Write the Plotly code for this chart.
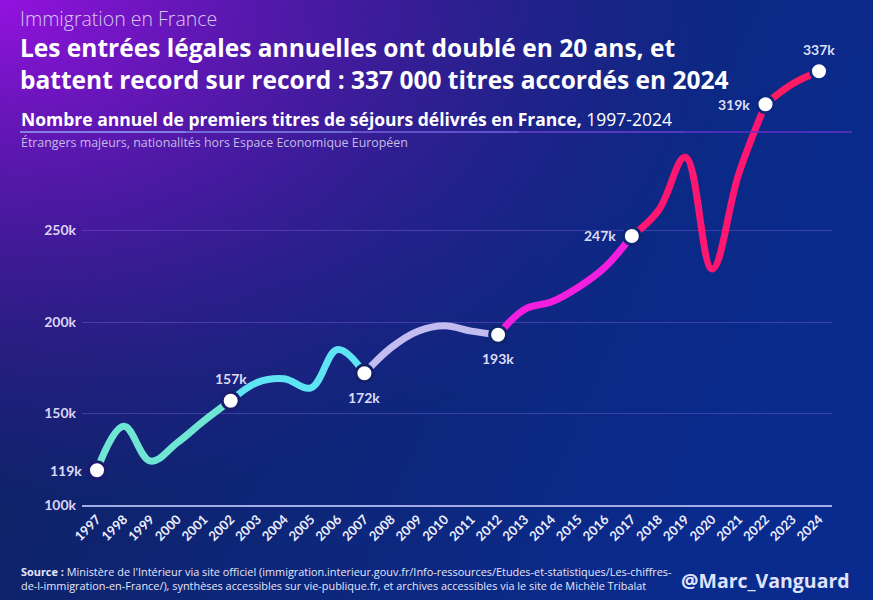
import base64
import plotly.graph_objects as go

# ---------------- data ----------------
years = list(range(1997, 2025))
values_k = [119, 143, 124, 134, 146, 157, 167, 169, 164, 185, 172, 186, 195, 198,
            195, 193, 207, 211, 219, 230, 247, 261, 290, 229, 281, 319, 330, 337]
labelled_years = [1997, 2002, 2007, 2012, 2017, 2022, 2024]
labelled_text = ["119k", "157k", "172k", "193k", "247k", "319k", "337k"]
y_ticks = [100, 150, 200, 250]
y_tick_text = ["100k", "150k", "200k", "250k"]

# colour groups (between labelled points)
group_bounds = [(1997, 2002), (2002, 2007), (2007, 2012), (2012, 2017), (2017, 2022), (2022, 2024)]
group_colors = ["#6fe6d4", "#5ee4f2", "#c2bcf0", "#f41edf", "#ff1670", "#ff1a62"]

W, H = 873, 600

def px(x):
    return x / W

def py(y):
    return 1 - y / H

# ---------------- background (svg gradient) ----------------
svg = f'''<svg xmlns="http://www.w3.org/2000/svg" width="{W}" height="{H}" viewBox="0 0 {W} {H}" preserveAspectRatio="none">
<defs>
<linearGradient id="b" x1="0" y1="0" x2="1" y2="0.3">
<stop offset="0" stop-color="#10205f"/><stop offset="1" stop-color="#0a2b8e"/></linearGradient>
<radialGradient id="p" cx="0" cy="0" r="0.85" gradientUnits="objectBoundingBox">
<stop offset="0" stop-color="#9412e0" stop-opacity="1"/>
<stop offset="0.45" stop-color="#6a14c0" stop-opacity="0.6"/>
<stop offset="1" stop-color="#3a1aa0" stop-opacity="0"/>
</radialGradient></defs>
<rect width="{W}" height="{H}" fill="url(#b)"/>
<rect width="{W}" height="{H}" fill="url(#p)"/>
</svg>'''
svg_uri = "data:image/svg+xml;base64," + base64.b64encode(svg.encode()).decode()

fig = go.Figure()

# line segments
for (a, b), col in zip(group_bounds, group_colors):
    xs = [y for y in years if a <= y <= b]
    ys = [values_k[years.index(y)] for y in xs]
    fig.add_trace(go.Scatter(x=xs, y=ys, mode="lines",
                             line=dict(color=col, width=7, shape="spline", smoothing=1.1),
                             hoverinfo="skip", showlegend=False))

# markers
mk_y = [values_k[years.index(y)] for y in labelled_years]
ring = ["#1c1a6e", "#1a1c70", "#13206a", "#0e2468", "#0e2672", "#0b2880", "#0a2a88"]
fig.add_trace(go.Scatter(x=labelled_years, y=mk_y, mode="markers",
                         marker=dict(color="white", size=17, line=dict(color=ring, width=3)),
                         hoverinfo="skip", showlegend=False))

# value labels
lab_font = dict(family="Lato", size=14, color="#dcdcf6", weight="bold")
offsets = {1997: (-31, 0), 2002: (0, 22), 2007: (0, -24), 2012: (0, -24),
           2017: (-32, 0), 2022: (-32, 0), 2024: (0, 22)}
for yr, txt in zip(labelled_years, labelled_text):
    dx, dy = offsets[yr]
    fig.add_annotation(x=yr, y=values_k[years.index(yr)], xref="x", yref="y",
                       text=txt, showarrow=False, xshift=dx, yshift=dy,
                       font=lab_font, xanchor="center", yanchor="middle")

# ---------------- texts ----------------
F = "Open Sans"
fig.add_annotation(x=px(18), y=py(19), xref="paper", yref="paper", xanchor="left", yanchor="middle",
                   text="Immigration en France", showarrow=False,
                   font=dict(family=F, size=19.5, color="#d8c8f2", weight=300))
fig.add_annotation(x=px(18), y=py(63.5), xref="paper", yref="paper", xanchor="left", yanchor="middle",
                   text="<b>Les entrées légales annuelles ont doublé en 20 ans, et</b><br>"
                        "<b>battent record sur record : 337 000 titres accordés en 2024</b>",
                   showarrow=False, align="left",
                   font=dict(family=F, size=24.5, color="white"))
fig.add_annotation(x=px(19), y=py(119), xref="paper", yref="paper", xanchor="left", yanchor="middle",
                   text="<b>Nombre annuel de premiers titres de séjours délivrés en France,</b> 1997-2024",
                   showarrow=False, font=dict(family=F, size=17.5, color="white"))
fig.add_annotation(x=px(19), y=py(142), xref="paper", yref="paper", xanchor="left", yanchor="middle",
                   text="Étrangers majeurs, nationalités hors Espace Economique Européen",
                   showarrow=False, font=dict(family=F, size=12.4, color="#c4bce6"))
fig.add_annotation(x=px(19), y=py(578), xref="paper", yref="paper", xanchor="left", yanchor="middle",
                   text="<b>Source :</b> Ministère de l'Intérieur via site officiel (immigration.interieur.gouv.fr/Info-ressources/Etudes-et-statistiques/Les-chiffres-<br>"
                        "de-l-immigration-en-France/), synthèses accessibles sur vie-publique.fr, et archives accessibles via le site de Michèle Tribalat",
                   showarrow=False, align="left",
                   font=dict(family=F, size=10.9, color="#e6e6fa"))
fig.add_annotation(x=px(852), y=py(580), xref="paper", yref="paper", xanchor="right", yanchor="middle",
                   text="<b>@Marc_Vanguard</b>", showarrow=False,
                   font=dict(family=F, size=19.5, color="#dfe2fa"))

# underline (gradient approximated)
ul_cols = ["#8fa4f2", "#7f86ea", "#7462de", "#6a40d2", "#6230c8"]
x0, x1 = 20, 852
step = (x1 - x0) / len(ul_cols)
for i, c in enumerate(ul_cols):
    fig.add_shape(type="line", xref="paper", yref="paper",
                  x0=px(x0 + i * step), x1=px(x0 + (i + 1) * step), y0=py(132), y1=py(132),
                  line=dict(color=c, width=1.5))

fig.add_layout_image(dict(source=svg_uri, xref="paper", yref="paper", x=0, y=1,
                          sizex=1, sizey=1, sizing="stretch", xanchor="left", yanchor="top",
                          layer="below"))

ymin, ymax = 100, 100 + (505 - 60) / 91.5 * 50
fig.update_layout(
    width=W, height=H, autosize=False,
    margin=dict(l=0, r=0, t=0, b=0, pad=0),
    paper_bgcolor="#12206a", plot_bgcolor="rgba(0,0,0,0)",
    showlegend=False,
    xaxis=dict(domain=[px(82), px(832)], range=[1997 - 15 / 26.74, 2024 + 13 / 26.74],
               tickmode="array", tickvals=years, ticktext=[str(y) for y in years],
               tickangle=-45, showgrid=False, zeroline=False, automargin=False,
               showline=True, linecolor="#a4ace6", linewidth=1.5,
               tickfont=dict(family="Lato", size=13, color="#eeeefe", weight="bold"),
               ticks="", fixedrange=True),
    yaxis=dict(domain=[py(505), py(60)], range=[ymin, ymax], automargin=False,
               tickmode="array", tickvals=y_ticks, ticktext=y_tick_text,
               showgrid=True, gridcolor="rgba(150,110,235,0.35)", gridwidth=1,
               zeroline=False, showline=False, ticks="", ticklabelstandoff=5,
               tickfont=dict(family="Lato", size=14, color="#dcd4f4", weight="bold"),
               fixedrange=True),
)

fig.write_html("out.html", config={"displayModeBar": False},
               post_script="document.body.style.margin='0px';document.body.style.overflow='hidden';")
